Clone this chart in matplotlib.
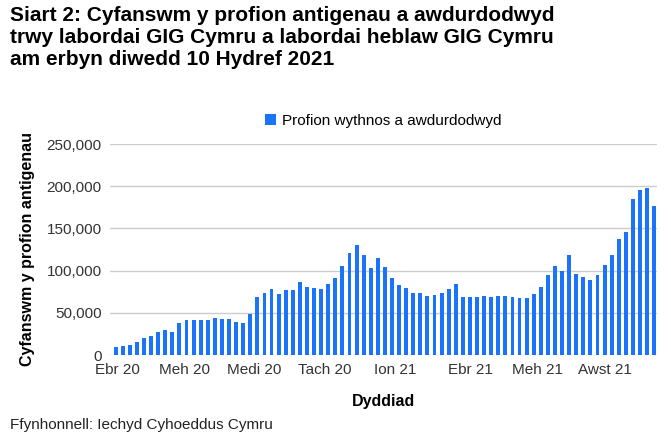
import matplotlib
matplotlib.use("Agg")
import matplotlib.pyplot as plt
plt.rcParams['font.family'] = ['Liberation Sans', 'DejaVu Sans']

values = [10,11,12,15,20,23,27,30,27,38,41,42,42,41,44,43,43,39,38,49,69,74,78,72,77,77,86,80,79,78,84,91,106,121,130,119,103,115,104,
          91,83,79,73,73,70,71,74,78,84,69,69,69,70,69,70,70,69,67,68,72,80,95,106,99,118,96,92,89,95,107,119,138,146,185,196,198,176]
values = [v*1000 for v in values]
tick_pos = [0.3, 9.7, 19.5, 29.5, 39.4, 50.1, 59.6, 69.1]
tick_labels = ["Ebr 20","Meh 20","Medi 20","Tach 20","Ion 21","Ebr 21","Meh 21","Awst 21"]

fig = plt.figure(figsize=(6.71,4.48), dpi=100)
ax = fig.add_axes([110/671, 1-355/448, 547/671, 211/448])
x = list(range(len(values)))
ax.bar(x, values, width=0.55, color="#1a73f8", label="Profion wythnos a awdurdodwyd", zorder=3)
ax.set_xlim(-0.8, len(values)-0.6)
ax.set_ylim(0, 250000)
ax.set_yticks(range(0,250001,50000))
ax.set_yticklabels([f"{v:,}" for v in range(0,250001,50000)], fontsize=11, color="#333333")
ax.set_xticks(tick_pos)
ax.set_xticklabels(tick_labels, fontsize=11, color="#333333")
ax.tick_params(length=0, pad=6)
ax.grid(axis="y", color="#cccccc", lw=1, zorder=0)
for s in ax.spines.values():
    s.set_visible(False)
ax.set_ylabel("Cyfanswm y profion antigenau", fontsize=11.5, fontweight="bold", labelpad=8)
ax.set_xlabel("Dyddiad", fontsize=11.5, fontweight="bold", labelpad=12)
ax.legend(loc="lower center", bbox_to_anchor=(0.5, 1.01), frameon=False, fontsize=11,
          handlelength=0.7, handleheight=0.7, handletextpad=0.4)
fig.text(10/671, 1-6/448, "Siart 2: Cyfanswm y profion antigenau a awdurdodwyd\ntrwy labordai GIG Cymru a labordai heblaw GIG Cymru\nam erbyn diwedd 10 Hydref 2021",
         fontsize=15, fontweight="bold", va="top", ha="left", linespacing=1.2)
fig.text(10/671, 1-425/448, "Ffynhonnell: Iechyd Cyhoeddus Cymru", fontsize=11, va="center", ha="left", color="#222222")
fig.savefig("out.png", dpi=100)
